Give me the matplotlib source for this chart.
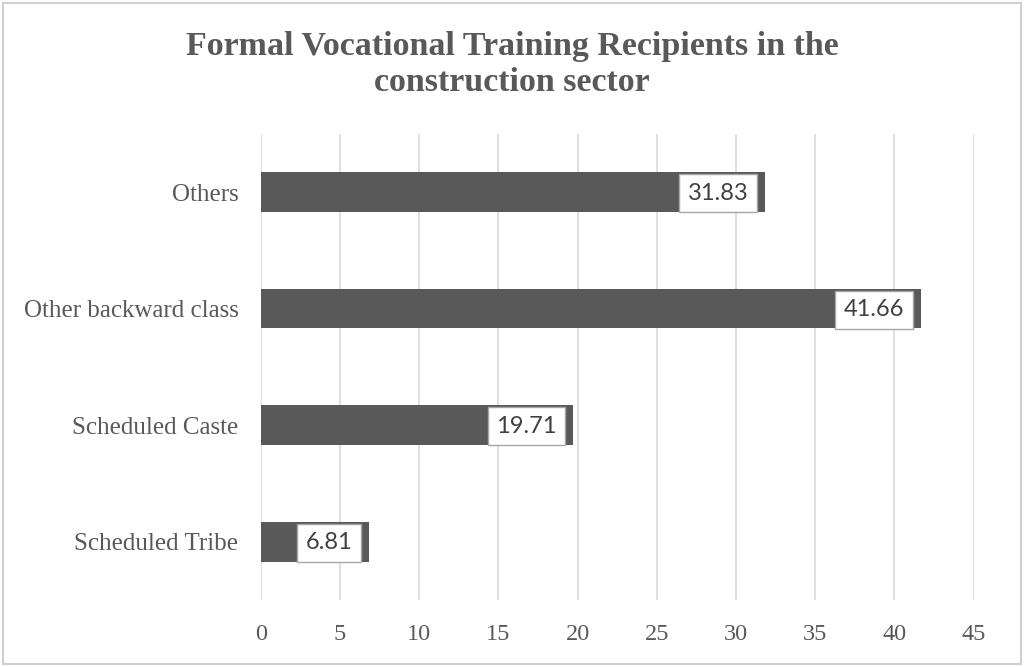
import matplotlib.pyplot as plt
from matplotlib.patches import Rectangle

categories = ["Scheduled Tribe", "Scheduled Caste", "Other backward class", "Others"]
values = [6.81, 19.71, 41.66, 31.83]
xticks = [0, 5, 10, 15, 20, 25, 30, 35, 40, 45]

bar_color = "#595959"
text_color = "#595959"
grid_color = "#d9d9d9"

fig = plt.figure(figsize=(10.24, 6.67), dpi=100)
ax = fig.add_axes([0.2546, 0.1004, 0.6963, 0.699])

# light border round the whole chart
fig.patches.append(Rectangle((0.003, 0.005), 0.994, 0.99, transform=fig.transFigure,
                             fill=False, edgecolor="#d0d0d0", linewidth=1.5))

ypos = list(range(len(categories)))
ax.barh(ypos, values, height=0.34, color=bar_color, zorder=2)

# value labels inside the bar end, white boxes
for y, v in zip(ypos, values):
    ax.annotate(f"{v:.2f}", xy=(v, y), xytext=(-16.5, -1), textcoords="offset pixels",
                ha="right", va="center", fontsize=17, family="Lato", color="#404040",
                bbox=dict(boxstyle="square,pad=0.36", facecolor="white",
                          edgecolor="#a6a6a6", linewidth=1), zorder=3)

ax.set_xlim(0, 45)
ax.set_ylim(-0.5, len(categories) - 0.5)
ax.set_xticks(xticks)
ax.set_yticks(ypos)
ax.set_yticklabels(categories)
ax.xaxis.grid(True, color=grid_color, linewidth=1.2, zorder=0)
ax.set_axisbelow(True)
for s in ax.spines.values():
    s.set_visible(False)
ax.tick_params(axis="both", length=0, labelcolor=text_color)
ax.tick_params(axis="y", pad=16, labelsize=18)
ax.tick_params(axis="x", pad=17, labelsize=17.5)
for lbl in ax.get_xticklabels() + ax.get_yticklabels():
    lbl.set_family("Liberation Serif")

fig.text(0.5, 0.903, "Formal Vocational Training Recipients in the\nconstruction sector",
         ha="center", va="center", fontsize=24.5, fontweight="bold",
         family="Liberation Serif", color=text_color, linespacing=1.22)

plt.savefig("out.png", dpi=100)
